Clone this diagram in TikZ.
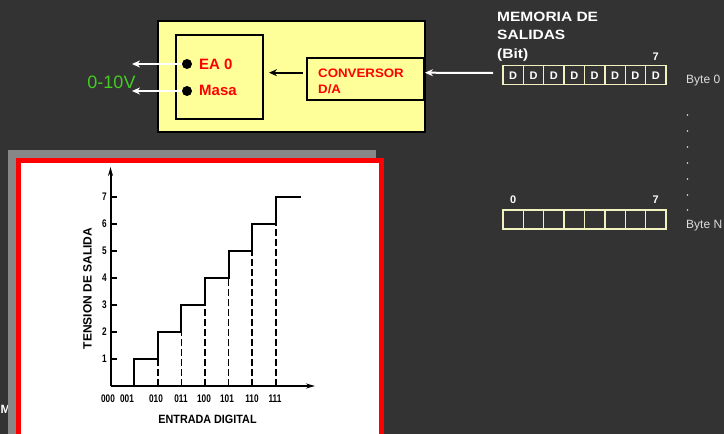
\documentclass[tikz,border=0pt]{standalone}
\usepackage{fontspec}
\setmainfont{Liberation Sans}
\usepackage{graphicx}
\usetikzlibrary{arrows.meta}

\definecolor{bg}{HTML}{333333}
\definecolor{plcyellow}{HTML}{FFFF99}
\definecolor{cellline}{HTML}{F2F2C0}
\definecolor{voltgreen}{HTML}{44CC22}
\definecolor{framegray}{HTML}{878787}
\definecolor{bytegray}{HTML}{DDDDDD}

% narrow lettering for the chart annotations
\newcommand\narrowtxt[1]{\scalebox{0.75}[1]{#1}}
% slightly widened lettering for the slide headings
\newcommand\widetxt[2]{\scalebox{#1}[1]{#2}}

\begin{document}
\begin{tikzpicture}[x=1pt,y=-1pt,
  blk/.style={draw=black, line width=2pt, fill=plcyellow, inner sep=0pt},
  redlbl/.style={text=red, font=\bfseries\fontsize{15}{18}\selectfont, anchor=west, inner sep=0pt},
  wire/.style={draw=white, line width=2pt, -{Stealth[length=8pt,width=7pt]}},
  pin/.style={circle, fill=black, minimum size=10pt, inner sep=0pt},
  cell/.style={draw=cellline, line width=1.3pt, minimum width=20.4pt, minimum height=19pt,
    inner sep=0pt, text=white, font=\bfseries\fontsize{11}{12}\selectfont},
  bitlbl/.style={text=white, font=\bfseries\fontsize{11}{12}\selectfont, inner sep=0pt},
  bytelbl/.style={anchor=base west, text=bytegray, font=\fontsize{12}{14}\selectfont, inner sep=0pt},
  axis/.style={line width=2pt, -{Stealth[length=9pt,width=5pt]}},
  stair/.style={line width=2pt},
  guide/.style={line width=1.6pt, dash pattern=on 7pt off 3pt},
  numlbl/.style={font=\bfseries\fontsize{11}{12}\selectfont, inner sep=0pt},
  axtitle/.style={font=\bfseries\fontsize{12}{14}\selectfont, inner sep=0pt}
]
\useasboundingbox (0,0) rectangle (724,434);
\clip (0,0) rectangle (724,434);
\fill[bg] (0,0) rectangle (724,434);

% heading partly covered by the photo frame
\node[anchor=west, text=white, font=\bfseries\fontsize{12}{14}\selectfont, inner sep=0pt] (mhead) at (0.5,409) {M};

% ---------- PLC with analog output module ----------
\node[blk, minimum width=267pt, minimum height=111pt] (plc) at (291.5,76.5) {};
\node[blk, minimum width=87pt, minimum height=84pt] (mod) at (219.5,77) {};
\node[blk, minimum width=117pt, minimum height=42pt] (conv) at (365.5,79) {};
\node[anchor=north west, align=left, text=red, font=\bfseries\fontsize{12.3}{16.3}\selectfont, inner sep=0pt]
  (convtxt) at (318,68.3) {\widetxt{1.08}{CONVERSOR}\\\widetxt{1.08}{D/A}};

\coordinate (eaout) at (132,64);
\coordinate (msout) at (132,91);
\node[pin] (ea) at (187,64) {};
\node[pin] (ms) at (187,91) {};
\draw[wire] (ea) -- (eaout);
\draw[wire] (ms) -- (msout);
\node[redlbl] (ealbl) at (199,64.5) {EA 0};
\node[redlbl] (mslbl) at (199,90.5) {Masa};

\node[text=voltgreen, font=\fontsize{18}{20}\selectfont, inner sep=0pt] (volt) at (111.5,82.5) {0-10V};

\draw[line width=2pt, -{Stealth[length=8pt,width=7pt]}, shorten <=3pt, shorten >=5pt]
  ([yshift=6.3pt]conv.west) -- ([yshift=4.3pt]mod.east);

% ---------- output memory ----------
\node[anchor=north west, align=left, text=white, font=\bfseries\fontsize{13.5}{18.5}\selectfont, inner sep=0pt]
  (memtitle) at (497,11.5) {\widetxt{1.15}{MEMORIA DE}\\\widetxt{1.15}{SALIDAS}\\\widetxt{1.15}{(Bit)}};

\foreach \i in {0,...,7} {
  \node[cell] (bz\i) at ({503+20.375*(\i+0.5)},75.3) {D};
  \node[cell] (bn\i) at ({503+20.375*(\i+0.5)},219.5) {};
}
\node[bitlbl] (bzhi) at (655.8,57) {7};
\node[bitlbl] (bnlo) at (513.2,200) {0};
\node[bitlbl] (bnhi) at (655.8,200) {7};

\coordinate (memout) at (493,73);
\draw[wire] (memout) -- ([yshift=6.3pt]conv.east);

\node[bytelbl] (byte0) at (686,83.3) {Byte 0};
\node[bytelbl] (byten) at (686,228.3) {Byte N};
\foreach \y in {115,131,147,163,179,195,210}
  \fill[bytegray] (687.5,\y) circle (0.9pt);

% ---------- transfer characteristic photo ----------
\fill[framegray] (8,150) rectangle (376,440);
\draw[red, line width=5pt, fill=white] (18.5,160.5) rectangle (381.5,445);

\coordinate (O) at (110.5,386);
\coordinate (ytip) at (110.5,167);
\coordinate (xtip) at (315,386);
\draw[axis] (O) -- (ytip);
\draw[axis] (O) -- (xtip);

\draw[stair] (O) -- (134.1,386) |- (157.7,359) |- (181.3,332) |- (204.9,305)
  |- (228.5,278) |- (252.1,251) |- (275.7,224) |- (300.5,197);

\foreach \k/\x in {2/157.7,3/181.3,4/204.9,5/228.5,6/252.1,7/275.7}
  \draw[guide] (\x,386) -- (\x,{386-27*(\k-1)});

\foreach \k in {1,...,7} {
  \draw[line width=1.2pt] (110.5,{386-27*\k}) -- (116.5,{386-27*\k});
  \node[numlbl] (yl\k) at (104.5,{386-27*\k}) {\narrowtxt{\k}};
}

\foreach \t/\x in {000/108,001/127,010/156,011/181,100/204,101/227,110/252,111/275}
  \node[numlbl] (xl\t) at (\x,399) {\narrowtxt{\t}};

\node[axtitle, rotate=90] (ytitle) at (87.5,288.5) {TENSION DE SALIDA};
\node[axtitle] (xtitle) at (207.5,419) {\scalebox{0.9}[1]{ENTRADA DIGITAL}};
\end{tikzpicture}
\end{document}
